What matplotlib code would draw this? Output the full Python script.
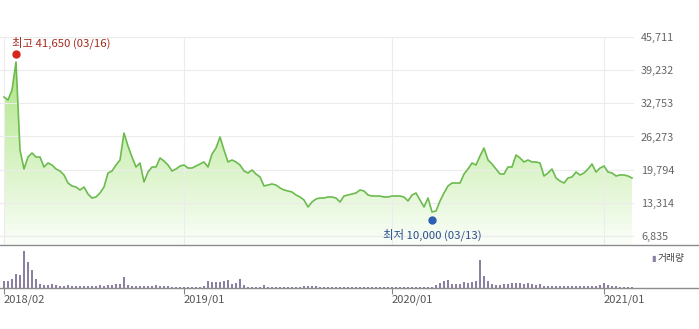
import numpy as np
import matplotlib
matplotlib.use("Agg")
import matplotlib.pyplot as plt
from matplotlib.colors import LinearSegmentedColormap
from matplotlib.patches import Polygon
from matplotlib.lines import Line2D

plt.rcParams['font.family'] = ['Noto Sans CJK KR', 'DejaVu Sans']

# weekly closing prices (won), one per week from 2018/02
prices = [
    33990, 33400, 35350, 40830, 23630, 19920, 22260, 23050, 22260, 22260,
    20310, 21090, 20700, 19920, 19530, 18750, 17180, 16600, 16400, 15820,
    16400, 15030, 14250, 14450, 15230, 16400, 19140, 19530, 20700, 21680,
    26950, 24410, 22260, 20310, 21090, 17380, 19330, 20310, 20310, 22070,
    21480, 20700, 19530, 19920, 20500, 20700, 20110, 20110, 20500, 20900,
    21290, 20310, 22850, 24020, 26170, 23630, 21290, 21680, 21290, 20700,
    19530, 19140, 19720, 18940, 18360, 16600, 16790, 16990, 16790, 16210,
    15820, 15620, 15420, 14840, 14450, 13860, 12490, 13470, 14060, 14250,
    14250, 14450, 14450, 14250, 13470, 14640, 14840, 15030, 15230, 15820,
    15620, 14840, 14640, 14640, 14640, 14450, 14450, 14640, 14640, 14640,
    14450, 13670, 14840, 15230, 13860, 12490, 14250, 11520, 11710, 13670,
    15230, 16600, 17180, 17180, 17180, 18940, 19920, 21090, 20700, 22460,
    24020, 21680, 20900, 19920, 18940, 18940, 20310, 20310, 22650, 22070,
    21290, 21680, 21290, 21290, 21090, 18550, 19140, 19920, 18160, 17570,
    17180, 18160, 18360, 19330, 18750, 19140, 19920, 20900, 19330, 20110,
    20500, 19330, 19140, 18550, 18750, 18750, 18550, 18160,
]

# weekly volume (thousand shares)
volume = [
    70, 70, 90, 140, 130, 370, 260, 180, 90, 40,
    30, 30, 40, 30, 20, 20, 30, 20, 20, 20,
    20, 20, 20, 20, 30, 20, 30, 30, 40, 40,
    110, 30, 20, 20, 20, 20, 20, 20, 30, 20,
    20, 20, 10, 10, 10, 10, 10, 10, 10, 10,
    20, 70, 60, 60, 60, 70, 80, 40, 50, 90,
    30, 10, 10, 10, 10, 30, 10, 10, 10, 10,
    10, 10, 10, 10, 10, 20, 20, 20, 20, 10,
    10, 10, 10, 10, 10, 10, 10, 10, 10, 10,
    10, 10, 10, 10, 10, 10, 10, 10, 10, 10,
    10, 10, 10, 10, 10, 10, 10, 10, 30, 50,
    70, 80, 40, 40, 40, 60, 50, 60, 70, 280,
    120, 70, 40, 30, 30, 40, 40, 50, 50, 50,
    40, 50, 40, 30, 40, 20, 20, 20, 20, 20,
    20, 20, 20, 20, 20, 20, 20, 20, 20, 30,
    50, 30, 20, 20, 10, 10, 10, 10,
]

price_ticks = [6835, 13314, 19794, 26273, 32753, 39232, 45711]
date_ticks = [0, 45, 97, 150]
date_labels = ['2018/02', '2019/01', '2020/01', '2021/01']

hi_idx, hi_val, hi_text = 3, 41650, '최고 41,650 (03/16)'
lo_idx, lo_val, lo_text = 107, 10000, '최저 10,000 (03/13)'

W, H = 699, 329
fig = plt.figure(figsize=(W / 100, H / 100), dpi=100)

def box(x0, y0, x1, y1):
    return [x0 / W, 1 - y1 / H, (x1 - x0) / W, (y1 - y0) / H]

ax = fig.add_axes(box(0, 37, 634, 245))
axv = fig.add_axes(box(0, 248, 634, 288))

x = np.arange(len(prices))
ylo = 45711 - 208 * 195.4
ax.set_xlim(-1, 157.5)
ax.set_ylim(ylo, 45711)

# gradient fill under the line
cmap = LinearSegmentedColormap.from_list('g', ['#fbfef9', '#a3e275'])
grad = np.linspace(1, 0, 256).reshape(-1, 1)
im = ax.imshow(grad, aspect='auto', cmap=cmap, extent=[x[0], x[-1], ylo, 45711],
               origin='upper', zorder=1)
verts = list(zip(x, prices)) + [(x[-1], ylo), (x[0], ylo)]
clip = Polygon(verts, closed=True, facecolor='none', edgecolor='none', transform=ax.transData)
ax.add_patch(clip)
im.set_clip_path(clip)

ax.plot(x, prices, color='#6cbb4f', lw=1.2, zorder=4)

for t in price_ticks:
    ax.axhline(t, color='#ececec', lw=0.8, zorder=2)
for t in date_ticks:
    ax.axvline(t, color='#ececec', lw=0.8, zorder=2)

ax.yaxis.tick_right()
ax.set_yticks(price_ticks)
ax.set_yticklabels([f'{t:,}' for t in price_ticks])
ax.tick_params(axis='y', length=0, pad=5, labelsize=7.8, labelcolor='#666666')
ax.set_xticks([])
for s in ax.spines.values():
    s.set_visible(False)

# high / low markers
ax.plot(hi_idx, hi_val + 700, 'o', color='#d9261c', ms=5, zorder=5)
ax.annotate(hi_text, (hi_idx, hi_val), xytext=(-3, 6), textcoords='offset points',
            ha='left', va='bottom', fontsize=8.2, color='#a52a1e')
ax.plot(lo_idx, lo_val, 'o', color='#2f5fb3', ms=5, zorder=5)
ax.annotate(lo_text, (lo_idx, lo_val), xytext=(0, -6), textcoords='offset points',
            ha='center', va='top', fontsize=8.2, color='#2b4f8e')

# volume pane
axv.bar(x, volume, width=0.45, color='#8b7fa2', zorder=3)
axv.set_xlim(-1, 157.5)
axv.set_ylim(0, max(volume) * 1.08)
axv.set_yticks([])
axv.set_xticks(date_ticks)
axv.set_xticklabels(date_labels, ha='left')
axv.tick_params(axis='x', length=4, color='#888888', pad=1, labelsize=8, labelcolor='#555555')
for s in axv.spines.values():
    s.set_visible(False)

# full-width separator lines
fig.add_artist(Line2D([0, 1], [1 - 245 / H] * 2, color='#8c8c8c', lw=1, transform=fig.transFigure))
fig.add_artist(Line2D([0, 1], [1 - 288 / H] * 2, color='#8c8c8c', lw=1, transform=fig.transFigure))

fig.text(651 / W, 1 - 258 / H, '▮', color='#8b7fa2', fontsize=6, va='center', ha='left')
fig.text(658 / W, 1 - 258 / H, '거래량', color='#444444', fontsize=7, va='center', ha='left')

fig.savefig('out.png', dpi=100)
